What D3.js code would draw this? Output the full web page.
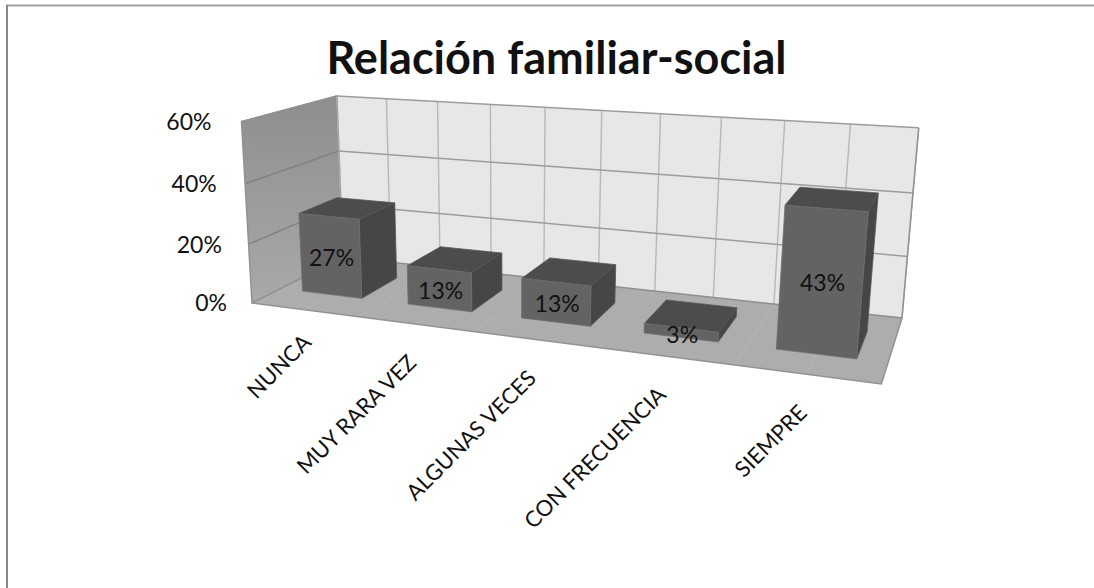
<!DOCTYPE html>
<html>
<head>
<meta charset="utf-8">
<script src="https://cdn.jsdelivr.net/npm/d3@7"></script>
<style>
  html, body { margin: 0; padding: 0; background: #fff; }
  svg { display: block; }
  text { font-family: Lato, "Open Sans", sans-serif; fill: #111; }
</style>
</head>
<body>
<div id="chart"></div>
<script>
const title = "Relación familiar-social";
const categories = ["NUNCA", "MUY RARA VEZ", "ALGUNAS VECES", "CON FRECUENCIA", "SIEMPRE"];
const values = [0.27, 0.13, 0.13, 0.03, 0.43];
const valueLabels = ["27%", "13%", "13%", "3%", "43%"];
const yTicks = [0, 0.2, 0.4, 0.6];

const width = 1094, height = 588;

const svg = d3.select("#chart").append("svg")
    .attr("width", width)
    .attr("height", height);

// scales work in a unit box: u along categories, d towards the viewer, v up
const uScale = d3.scaleBand().domain(categories).range([0, 1]).paddingInner(0.43).paddingOuter(0.215);
const vScale = d3.scaleLinear().domain([0, 0.6]).range([0, 1]);
const depthBar = [0.29, 0.71];

// camera: images of the box corners + perspective weights
const cam = {
    o: [343, 257],   // back left floor
    u: [902, 318],   // back right floor
    d: [252, 303],   // front left floor
    v: [337, 96],    // back left top
    a: -0.159, b: -0.117, c: -0.0345
};
const cu = [cam.u[0] * (1 + cam.a) - cam.o[0], cam.u[1] * (1 + cam.a) - cam.o[1]];
const cd = [cam.d[0] * (1 + cam.b) - cam.o[0], cam.d[1] * (1 + cam.b) - cam.o[1]];
const cv = [cam.v[0] * (1 + cam.c) - cam.o[0], cam.v[1] * (1 + cam.c) - cam.o[1]];

function project(u, d, v) {
    const w = 1 + cam.a * u + cam.b * d + cam.c * v;
    return [
        (cam.o[0] + cu[0] * u + cd[0] * d + cv[0] * v) / w,
        (cam.o[1] + cu[1] * u + cd[1] * d + cv[1] * v) / w
    ];
}

const line = d3.line();
const poly = pts => line(pts) + "Z";

// frame of the chart area
svg.append("line").attr("x1", 6).attr("x2", width).attr("y1", 5.5).attr("y2", 5.5)
    .attr("stroke", "#a0a0a0").attr("stroke-width", 2);
svg.append("line").attr("x1", 7).attr("x2", 7).attr("y1", 5).attr("y2", height)
    .attr("stroke", "#888888").attr("stroke-width", 2);

const defs = svg.append("defs");
const leftGrad = defs.append("linearGradient").attr("id", "leftWall")
    .attr("x1", 0).attr("y1", 0).attr("x2", 0).attr("y2", 1);
leftGrad.append("stop").attr("offset", "0%").attr("stop-color", "#8e8e8e");
leftGrad.append("stop").attr("offset", "100%").attr("stop-color", "#a9a9a9");

const box = svg.append("g").attr("class", "box");

// walls and floor
box.append("path")
    .attr("d", poly([project(0, 0, 0), project(1, 0, 0), project(1, 0, 1), project(0, 0, 1)]))
    .attr("fill", "#e7e7e7");
box.append("path")
    .attr("d", poly([project(0, 0, 0), project(0, 1, 0), project(0, 1, 1), project(0, 0, 1)]))
    .attr("fill", "url(#leftWall)");
box.append("path")
    .attr("d", poly([project(0, 0, 0), project(1, 0, 0), project(1, 1, 0), project(0, 1, 0)]))
    .attr("fill", "#adadad");

// gridlines
const uTicks = d3.range(0, 11).map(i => i / 10);

box.selectAll(".grid-u")
    .data(uTicks)
    .join("path")
    .attr("class", "grid-u")
    .attr("d", u => line([project(u, 0, 0), project(u, 0, 1)]))
    .attr("stroke", "#b8b8b8").attr("stroke-width", 1.4).attr("fill", "none");

box.selectAll(".grid-floor")
    .data(uTicks.slice(1, -1))
    .join("path")
    .attr("class", "grid-floor")
    .attr("d", u => line([project(u, 0, 0), project(u, 1, 0)]))
    .attr("stroke", "#b6b6b6").attr("stroke-width", 1).attr("fill", "none");

box.selectAll(".grid-back")
    .data(yTicks)
    .join("path")
    .attr("class", "grid-back")
    .attr("d", t => line([project(0, 0, vScale(t)), project(1, 0, vScale(t))]))
    .attr("stroke", t => t === 0 ? "#8e8e8e" : "#9c9c9c")
    .attr("stroke-width", 1.5).attr("fill", "none");

box.selectAll(".grid-left")
    .data(yTicks)
    .join("path")
    .attr("class", "grid-left")
    .attr("d", t => line([project(0, 1, vScale(t)), project(0, 0, vScale(t))]))
    .attr("stroke", t => t === 0 ? "#8e8e8e" : "#828282")
    .attr("stroke-width", 1.5).attr("fill", "none");

// front and right edge of floor, right edge of back wall
box.append("path")
    .attr("d", line([project(0, 0, 1), project(0, 1, 1), project(0, 1, 0), project(1, 1, 0), project(1, 0, 0), project(1, 0, 1)]))
    .attr("stroke", "#929292").attr("stroke-width", 1.5).attr("fill", "none");
box.append("path")
    .attr("d", line([project(0, 0, 0), project(0, 0, 1)]))
    .attr("stroke", "#a8a8a8").attr("stroke-width", 1.2).attr("fill", "none");

// bars
const bars = svg.selectAll(".bar")
    .data(categories.map((c, i) => ({ c, value: values[i], label: valueLabels[i] })))
    .join("g")
    .attr("class", "bar");

function faces(b) {
    const u0 = uScale(b.c), u1 = u0 + uScale.bandwidth();
    const [d0, d1] = depthBar;
    const t = vScale(b.value);
    return {
        top: [project(u0, d0, t), project(u1, d0, t), project(u1, d1, t), project(u0, d1, t)],
        right: [project(u1, d1, 0), project(u1, d0, 0), project(u1, d0, t), project(u1, d1, t)],
        front: [project(u0, d1, 0), project(u1, d1, 0), project(u1, d1, t), project(u0, d1, t)]
    };
}

bars.append("path").attr("d", b => poly(faces(b).top))
    .attr("fill", "#4c4c4c").attr("stroke", "#575757").attr("stroke-width", 0.8);
bars.append("path").attr("d", b => poly(faces(b).right))
    .attr("fill", "#464646").attr("stroke", "#575757").attr("stroke-width", 0.8);
bars.append("path").attr("d", b => poly(faces(b).front))
    .attr("fill", "#636363").attr("stroke", "#6e6e6e").attr("stroke-width", 0.8);

// value labels sit in the middle of the front face
svg.selectAll(".value-label")
    .data(bars.data())
    .join("text")
    .attr("class", "value-label")
    .attr("text-anchor", "middle")
    .attr("font-size", 23)
    .attr("x", b => d3.mean(faces(b).front, p => p[0]) + 1)
    .attr("y", b => d3.mean(faces(b).front, p => p[1]) + 10)
    .text(b => b.label);

// y axis labels follow the front edge of the left wall
svg.selectAll(".y-label")
    .data(yTicks)
    .join("text")
    .attr("class", "y-label")
    .attr("text-anchor", "end")
    .attr("font-size", 23)
    .attr("x", t => project(0, 1, vScale(t))[0] - 25 - 5 * vScale(t))
    .attr("y", t => project(0, 1, vScale(t))[1] + 8 + (t === 0.2 ? 1 : 0))
    .text(d3.format(".0%"));

// category labels, the first one sits a bit closer to the floor
svg.selectAll(".x-label")
    .data(categories)
    .join("text")
    .attr("class", "x-label")
    .attr("text-anchor", "end")
    .attr("font-size", 22)
    .attr("transform", (c, i) => {
        const p = project(uScale(c) + uScale.bandwidth() / 2, 1, 0);
        const dx = i === 0 ? 8 : 2, dy = i === 0 ? 34 : 40;
        return `translate(${p[0] + dx},${p[1] + dy}) rotate(-45)`;
    })
    .text(c => c);

svg.append("text")
    .attr("x", 556.5)
    .attr("y", 74)
    .attr("text-anchor", "middle")
    .attr("font-size", 45)
    .attr("font-weight", 700)
    .text(title);
</script>
</body>
</html>
